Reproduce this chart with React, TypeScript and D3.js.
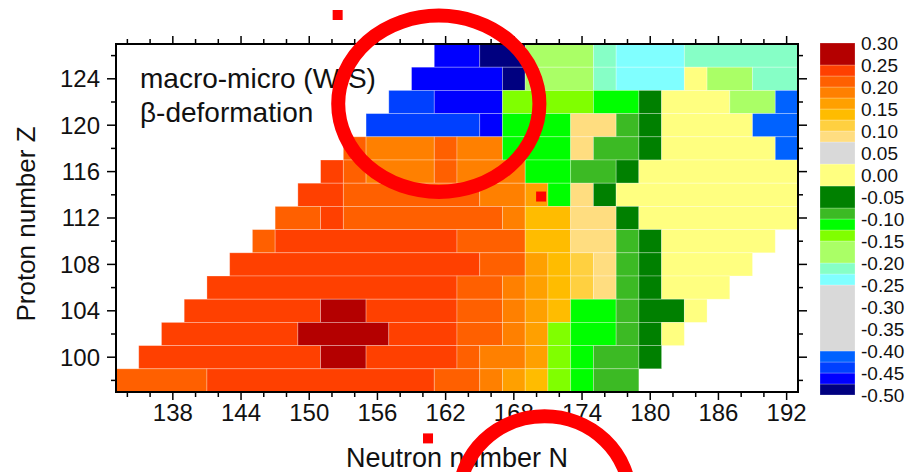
import React from "react";
import * as d3 from "d3";

// β-deformation (macro-micro, Woods-Saxon) for even-even nuclei.
// Each row lists values for N = nFirst, nFirst+2, ... ; null = not calculated.
const PROTON_ROWS = [126, 124, 122, 120, 118, 116, 114, 112, 110, 108, 106, 104, 102, 100, 98];
const FIRST_N = [162, 160, 158, 156, 154, 152, 150, 148, 146, 144, 142, 140, 138, 136, 134];

const beta126 = [-0.46, -0.46, -0.49, -0.49, -0.17, -0.17, -0.17, -0.21, -0.24, -0.24, -0.24, -0.21, -0.21, -0.21, -0.21, -0.21];
const beta124 = [-0.46, -0.46, -0.46, -0.46, -0.49, -0.17, -0.17, -0.17, -0.21, -0.24, -0.24, -0.24, 0.0, -0.17, -0.17, -0.21, -0.21];
const beta122 = [-0.44, -0.44, -0.46, -0.46, -0.46, -0.14, -0.14, -0.14, -0.14, -0.11, -0.11, -0.05, 0.0, 0.0, 0.0, -0.17, -0.17, -0.41];
const beta120 = [-0.44, -0.44, -0.44, -0.44, -0.44, -0.46, -0.11, -0.11, -0.11, 0.09, 0.09, -0.09, -0.05, 0.0, 0.0, 0.0, 0.0, -0.41, -0.41];
const beta118 = [0.21, 0.19, 0.19, 0.19, 0.21, 0.19, 0.19, -0.11, -0.11, -0.11, 0.09, -0.09, -0.09, -0.05, 0.0, 0.0, 0.0, 0.0, 0.0, -0.41];
const beta116 = [0.24, 0.21, 0.19, 0.19, 0.19, 0.21, 0.19, 0.19, 0.19, -0.11, -0.11, -0.09, -0.09, -0.05, 0.0, 0.0, 0.0, 0.0, 0.0, 0.0, 0.0];
const beta114 = [0.24, 0.24, 0.21, 0.21, 0.21, 0.21, 0.21, 0.21, 0.19, 0.19, 0.16, -0.11, 0.09, -0.05, 0.0, 0.0, 0.0, 0.0, 0.0, 0.0, 0.0, 0.0];
const beta112 = [0.21, 0.21, 0.24, 0.21, 0.21, 0.21, 0.21, 0.21, 0.21, 0.21, 0.19, 0.14, 0.14, 0.09, 0.09, -0.05, 0.0, 0.0, 0.0, 0.0, 0.0, 0.0, 0.0];
const beta110 = [0.21, 0.24, 0.24, 0.24, 0.24, 0.24, 0.24, 0.24, 0.24, 0.21, 0.21, 0.21, 0.14, 0.14, 0.09, 0.09, -0.09, -0.05, 0.0, 0.0, 0.0, 0.0, 0.0];
const beta108 = [0.24, 0.24, 0.24, 0.24, 0.24, 0.24, 0.24, 0.24, 0.24, 0.24, 0.24, 0.21, 0.21, 0.16, 0.14, 0.11, 0.09, -0.09, -0.05, 0.0, 0.0, 0.0, 0.0];
const beta106 = [0.24, 0.24, 0.24, 0.24, 0.24, 0.24, 0.24, 0.24, 0.24, 0.24, 0.24, 0.21, 0.21, 0.19, 0.16, 0.14, 0.11, 0.09, -0.09, -0.05, 0.0, 0.0, 0.0];
const beta104 = [0.24, 0.24, 0.24, 0.24, 0.24, 0.24, 0.27, 0.27, 0.24, 0.24, 0.24, 0.24, 0.21, 0.21, 0.19, 0.16, 0.14, -0.11, -0.11, -0.09, -0.05, -0.05, 0.0];
const beta102 = [0.24, 0.24, 0.24, 0.24, 0.24, 0.24, 0.27, 0.27, 0.27, 0.27, 0.24, 0.24, 0.24, 0.21, 0.21, 0.19, 0.16, -0.14, -0.11, -0.11, -0.09, -0.05, 0.0];
const beta100 = [0.24, 0.24, 0.24, 0.24, 0.24, 0.24, 0.24, 0.24, 0.27, 0.27, 0.24, 0.24, 0.24, 0.24, 0.21, 0.19, 0.19, 0.16, -0.14, -0.11, -0.09, -0.09, -0.05];
const beta98 = [0.21, 0.21, 0.21, 0.21, 0.24, 0.24, 0.24, 0.24, 0.24, 0.24, 0.24, 0.24, 0.24, 0.24, 0.21, 0.21, 0.19, 0.16, 0.14, -0.14, -0.11, -0.09, -0.09];

const BETA_BY_ROW = [beta126, beta124, beta122, beta120, beta118, beta116, beta114, beta112, beta110, beta108, beta106, beta104, beta102, beta100, beta98];

// Colour levels of the map (bottom to top) and the fill of each band.
const LEVELS = [-0.5, -0.475, -0.45, -0.425, -0.4, -0.25, -0.225, -0.2, -0.15, -0.125, -0.1, -0.075, -0.025, 0.025, 0.075, 0.1, 0.125, 0.15, 0.175, 0.2, 0.225, 0.25, 0.3];
const LEVEL_COLORS = [
  "#000080", "#0000ff", "#0040ff", "#0062ff", "#d9d9d9", "#80ffff", "#86ffc6", "#aaff66",
  "#80ff00", "#00ff00", "#3cba24", "#008000", "#ffff80", "#d9d9d9", "#ffdd80", "#ffd040",
  "#ffbc00", "#ffa000", "#ff8000", "#ff6000", "#ff4000", "#b40000",
];
const COLORBAR_LABELS = ["0.30", "0.25", "0.20", "0.15", "0.10", "0.05", "0.00", "-0.05", "-0.10", "-0.15", "-0.20", "-0.25", "-0.30", "-0.35", "-0.40", "-0.45", "-0.50"];

const X_MAJOR = [138, 144, 150, 156, 162, 168, 174, 180, 186, 192];
const Y_MAJOR = [100, 104, 108, 112, 116, 120, 124];

// Red marker annotations, given in (N, Z) units.
const RINGS = [
  { n: 161.4, z: 121.85, rn: 8.85, rz: 7.6 },
  { n: 170.7, z: 87.9, rn: 7.5, rz: 7.0 },
];
const SQUARES = [
  { n: 152.5, z: 129.5 },
  { n: 170.4, z: 113.85 },
  { n: 160.45, z: 93.0 },
];

const FONT = "'Liberation Sans', Arial, Helvetica, sans-serif";

export default function App() {
  const W = 908;
  const H = 472;
  const margin = { left: 116, right: 110, top: 44, bottom: 80 };

  const x = d3.scaleLinear().domain([133, 193]).range([margin.left, W - margin.right]);
  const y = d3.scaleLinear().domain([97, 127]).range([H - margin.bottom, margin.top]);
  const color = d3.scaleThreshold<number, string>().domain(LEVELS.slice(1, -1)).range(LEVEL_COLORS);

  // Merge neighbouring cells of the same colour band into one run per row.
  const runs: { z: number; n0: number; n1: number; fill: string }[] = [];
  PROTON_ROWS.forEach((z, i) => {
    const vals = BETA_BY_ROW[i];
    let cur: { z: number; n0: number; n1: number; fill: string } | null = null;
    vals.forEach((v, j) => {
      const n = FIRST_N[i] + 2 * j;
      if (v === null || v === undefined) {
        cur = null;
        return;
      }
      const fill = color(v);
      if (cur && cur.fill === fill && cur.n1 === n - 2) {
        cur.n1 = n;
      } else {
        cur = { z, n0: n, n1: n, fill };
        runs.push(cur);
      }
    });
  });

  const [x0, x1] = x.range();
  const [y0, y1] = [y(127), y(97)];

  const xTicks = d3.range(134, 193, 2);
  const yTicks = d3.range(98, 127, 2);

  // colour bar
  const cb = d3.scaleLinear().domain([-0.5, 0.3]).range([395, 43]);
  const cbX = 820;
  const cbW = 35;

  return (
    <svg
      width={W}
      height={H}
      viewBox={`0 0 ${W} ${H}`}
      style={{ position: "absolute", left: 0, top: 0, background: "#fff", fontFamily: FONT }}
    >
      <rect x={0} y={0} width={W} height={H} fill="#fff" />

      {runs.map((r, i) => (
        <rect
          key={i}
          x={x(r.n0 - 1)}
          y={y(r.z + 1)}
          width={x(r.n1 + 1) - x(r.n0 - 1)}
          height={y(r.z - 1) - y(r.z + 1)}
          fill={r.fill}
          stroke="rgba(255,255,255,0.35)"
          strokeWidth={0.8}
        />
      ))}

      {/* frame */}
      <rect x={x0} y={y0} width={x1 - x0} height={y1 - y0} fill="none" stroke="#000" strokeWidth={2} />

      {/* x ticks, bottom and top */}
      {xTicks.map((t) => {
        const major = X_MAJOR.includes(t);
        const len = major ? 8 : 5;
        return (
          <g key={"xt" + t}>
            <line x1={x(t)} x2={x(t)} y1={y1} y2={y1 + len} stroke="#000" strokeWidth={1.5} />
            <line x1={x(t)} x2={x(t)} y1={y0} y2={y0 - len} stroke="#000" strokeWidth={1.5} />
          </g>
        );
      })}
      {X_MAJOR.map((t) => (
        <text key={"xl" + t} x={x(t)} y={421} textAnchor="middle" fontSize={24} fill="#111">
          {t}
        </text>
      ))}

      {/* y ticks, left and right */}
      {yTicks.map((t) => {
        const major = Y_MAJOR.includes(t);
        const len = major ? 9 : 5;
        return (
          <g key={"yt" + t}>
            <line x1={x0} x2={x0 - len} y1={y(t)} y2={y(t)} stroke="#000" strokeWidth={1.5} />
            <line x1={x1} x2={x1 + len} y1={y(t)} y2={y(t)} stroke="#000" strokeWidth={1.5} />
          </g>
        );
      })}
      {Y_MAJOR.map((t) => (
        <text key={"yl" + t} x={100} y={y(t)} dy="0.35em" textAnchor="end" fontSize={24} fill="#111">
          {t}
        </text>
      ))}

      {/* axis titles */}
      <text x={(x0 + x1) / 2} y={467} textAnchor="middle" fontSize={27} fill="#111">
        Neutron number N
      </text>
      <text transform={`translate(35, ${(y0 + y1) / 2 + 6}) rotate(-90)`} textAnchor="middle" fontSize={26} fill="#111">
        Proton number Z
      </text>

      {/* in-plot caption */}
      <text x={140} y={88} fontSize={28} fill="#111">
        macro-micro (W-S)
      </text>
      <text x={140} y={122} fontSize={28} fill="#111">
        β-deformation
      </text>

      {/* colour bar */}
      {LEVEL_COLORS.map((c, i) => (
        <rect
          key={"cb" + i}
          x={cbX}
          y={cb(LEVELS[i + 1])}
          width={cbW}
          height={cb(LEVELS[i]) - cb(LEVELS[i + 1])}
          fill={c}
          stroke="rgba(255,255,255,0.4)"
          strokeWidth={0.6}
        />
      ))}
      {COLORBAR_LABELS.map((l) => (
        <text key={"cbl" + l} x={861} y={cb(+l)} dy="0.35em" fontSize={19} fill="#111">
          {l}
        </text>
      ))}

      {/* red markers */}
      {RINGS.map((r, i) => (
        <ellipse
          key={"ring" + i}
          cx={x(r.n)}
          cy={y(r.z)}
          rx={x(r.n + r.rn) - x(r.n)}
          ry={y(r.z) - y(r.z + r.rz)}
          fill="none"
          stroke="#ff0000"
          strokeWidth={14}
        />
      ))}
      {SQUARES.map((s, i) => (
        <rect key={"sq" + i} x={x(s.n) - 5} y={y(s.z) - 5} width={10} height={10} fill="#ff0000" />
      ))}
    </svg>
  );
}
